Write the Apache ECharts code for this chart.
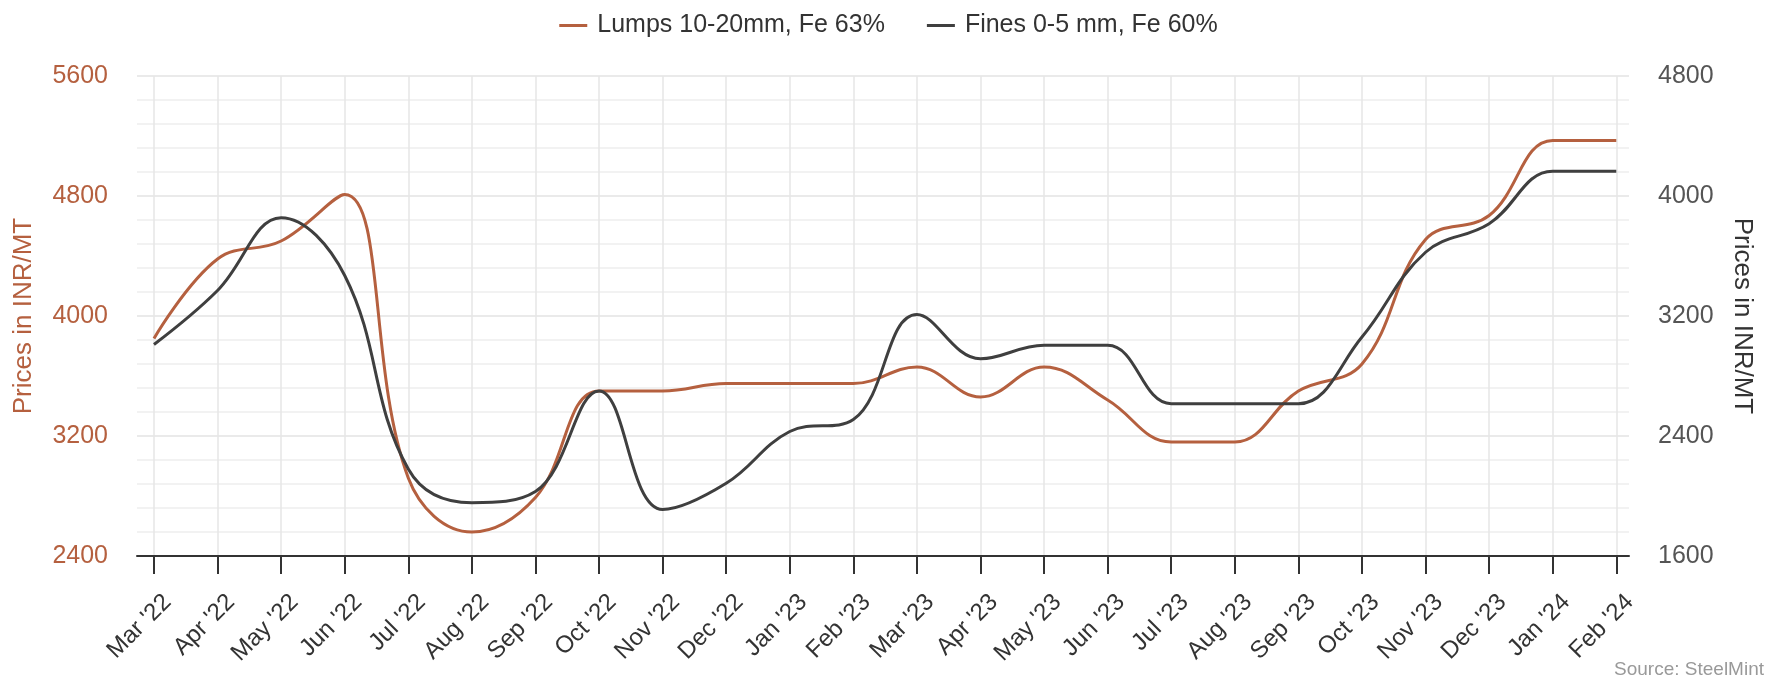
<!DOCTYPE html>
<html>
<head>
<meta charset="utf-8">
<script src="https://cdn.jsdelivr.net/npm/echarts@6/dist/echarts.min.js"></script>
<style>
html,body{margin:0;padding:0;background:#fff;}
#chart{width:1777px;height:682px;}
</style>
</head>
<body>
<div id="chart"></div>
<script>
// ---- data ----
const categories = ["Mar '22","Apr '22","May '22","Jun '22","Jul '22","Aug '22","Sep '22","Oct '22","Nov '22","Dec '22","Jan '23","Feb '23","Mar '23","Apr '23","May '23","Jun '23","Jul '23","Aug '23","Sep '23","Oct '23","Nov '23","Dec '23","Jan '24","Feb '24"];
const lumps = [3850,4380,4500,4810,2920,2560,2790,3500,3500,3550,3550,3550,3660,3460,3660,3440,3160,3160,3500,3680,4510,4670,5170,5170];
const fines = [3010,3370,3855,3470,2180,1955,2030,2700,1910,2085,2430,2510,3210,2915,3005,3005,2615,2615,2615,3060,3625,3815,4165,4165];
const leftTicks = [2400,3200,4000,4800,5600];
const rightTicks = [1600,2400,3200,4000,4800];
const seriesNames = ["Lumps 10-20mm, Fe 63%","Fines 0-5 mm, Fe 60%"];
const axisTitle = "Prices in INR/MT";
const sourceText = "Source: SteelMint";

const ORANGE = '#b5603f';
const DARK = '#3f3f3f';
const FONT = 'Liberation Sans, Arial, sans-serif';

const idx = categories.map((_, i) => i);
const chart = echarts.init(document.getElementById('chart'), null, {renderer: 'canvas'});
chart.setOption({
  animation: false,
  backgroundColor: '#fff',
  textStyle: {fontFamily: FONT},
  grid: {left: 137, right: 148, top: 76, bottom: 126, containLabel: false},
  legend: {
    top: 8, left: 'center',
    icon: 'rect', itemWidth: 28, itemHeight: 3, itemGap: 42,
    textStyle: {fontSize: 25, color: '#333', fontFamily: FONT, padding: [0,0,0,5]},
    data: seriesNames
  },
  xAxis: {
    type: 'value',
    min: -0.267, max: 23.2,
    axisLine: {show: true, onZero: false, lineStyle: {color: '#333', width: 2}},
    axisTick: {show: true, length: 18, lineStyle: {color: '#333', width: 2}, customValues: idx},
    axisLabel: {
      customValues: idx,
      rotate: 45, margin: 29, fontSize: 24, color: '#333', fontFamily: FONT,
      verticalAlign: 'top', padding: [7, 0, 0, 0],
      formatter: v => categories[Math.round(v)] || ''
    },
    splitLine: {show: true, lineStyle: {color: '#e6e6e6', width: 1.5}}
  },
  yAxis: [
    {
      type: 'value', position: 'left',
      min: leftTicks[0], max: leftTicks[leftTicks.length-1], interval: 800,
      name: axisTitle, nameLocation: 'middle', nameRotate: 90, nameGap: 100,
      nameTextStyle: {fontSize: 26, color: ORANGE, fontFamily: FONT},
      axisLine: {show: false}, axisTick: {show: false},
      axisLabel: {margin: 29, fontSize: 25, color: ORANGE, fontFamily: FONT, formatter: v => String(v)},
      splitLine: {show: true, lineStyle: {color: '#e3e3e3', width: 1.5}},
      minorTick: {show: false, splitNumber: 5},
      minorSplitLine: {show: true, lineStyle: {color: '#eeeeee', width: 1.5}}
    },
    {
      type: 'value', position: 'right',
      min: rightTicks[0], max: rightTicks[rightTicks.length-1], interval: 800,
      name: axisTitle, nameLocation: 'middle', nameRotate: -90, nameGap: 100,
      nameTextStyle: {fontSize: 26, color: '#333', fontFamily: FONT},
      axisLine: {show: false}, axisTick: {show: false},
      axisLabel: {margin: 29, fontSize: 25, color: '#555', fontFamily: FONT, formatter: v => String(v)},
      splitLine: {show: false}
    }
  ],
  series: [
    {
      name: seriesNames[0], type: 'line', yAxisIndex: 0,
      data: lumps.map((v, i) => [i, v]),
      smooth: 0.4, symbol: 'none', showSymbol: false,
      lineStyle: {color: ORANGE, width: 3}, itemStyle: {color: ORANGE}, z: 3
    },
    {
      name: seriesNames[1], type: 'line', yAxisIndex: 1,
      data: fines.map((v, i) => [i, v]),
      smooth: 0.4, symbol: 'none', showSymbol: false,
      lineStyle: {color: DARK, width: 3}, itemStyle: {color: DARK}, z: 4
    }
  ],
  graphic: [{
    type: 'text', right: 13, bottom: 3,
    style: {text: sourceText, fontSize: 19, fill: '#999', fontFamily: FONT}
  }]
});
</script>
</body>
</html>
